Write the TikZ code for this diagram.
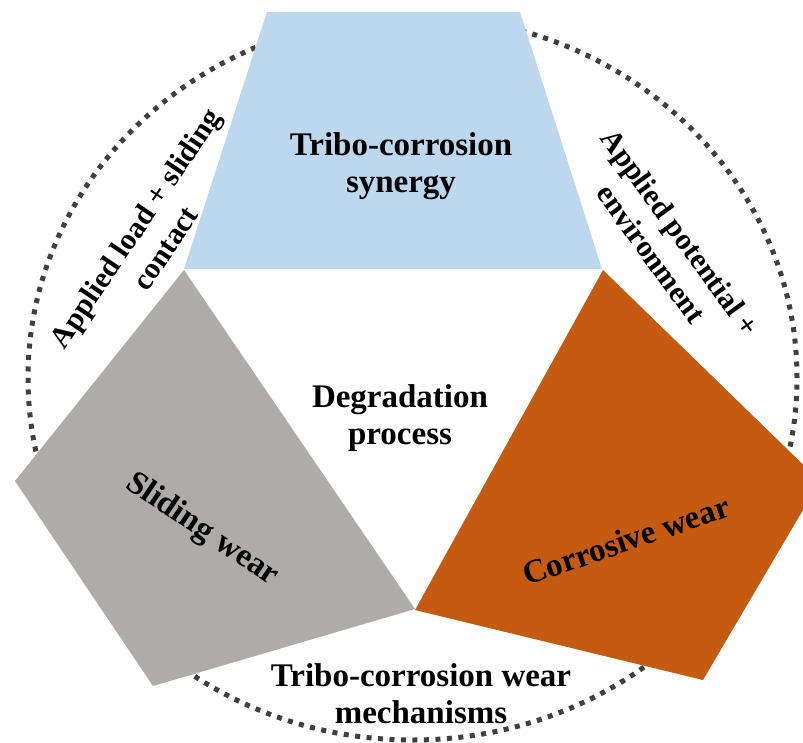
\documentclass[tikz,border=0pt]{standalone}
\usepackage{fontspec}
\setmainfont{Liberation Serif}
\definecolor{synblue}{HTML}{BDD7EE}
\definecolor{slidegray}{HTML}{AEABAB}
\definecolor{corrorange}{HTML}{C55A11}
\definecolor{dotgray}{HTML}{3F3F3F}
\tikzset{
  lbl/.style={font=\bfseries\fontsize{33}{37}\selectfont, align=center, inner sep=0pt},
  sidelbl/.style={font=\bfseries\fontsize{30}{36}\selectfont, align=center, inner sep=0pt},
}

\begin{document}
\begin{tikzpicture}[x=1pt,y=-1pt]
\useasboundingbox (0,0) rectangle (803,742);
% dotted ring
\draw[dotgray, line width=5pt, dash pattern=on 5pt off 6.5pt] (412.5,378) ellipse [x radius=384.5pt, y radius=362pt];

% the three wear regions
\fill[synblue] (267,12) -- (520,12) -- (602,269) -- (184,269) -- cycle;
\fill[slidegray] (184,270) -- (15,481) -- (153,686) -- (415,609) -- cycle;
\fill[corrorange] (603,270) -- (820,481) -- (703,680) -- (415,610) -- cycle;

\node[lbl] (synergy) at (401,166) {Tribo-corrosion\\synergy};
\node[lbl] (process) at (400,418) {Degradation\\process};
\node[lbl] (mech) at (421,694) {Tribo-corrosion wear\\mechanisms};
\node[lbl, rotate=-34] (sliding) at (202,530) {Sliding wear};
\node[lbl, rotate=19] (corrosive) at (626,540) {Corrosive wear};

\node[sidelbl, rotate=56] (load) at (150,238) {Applied load + sliding\\contact};
\node[sidelbl, rotate=-54] (potential) at (666,243) {Applied potential +\\environment};
\end{tikzpicture}
\end{document}
